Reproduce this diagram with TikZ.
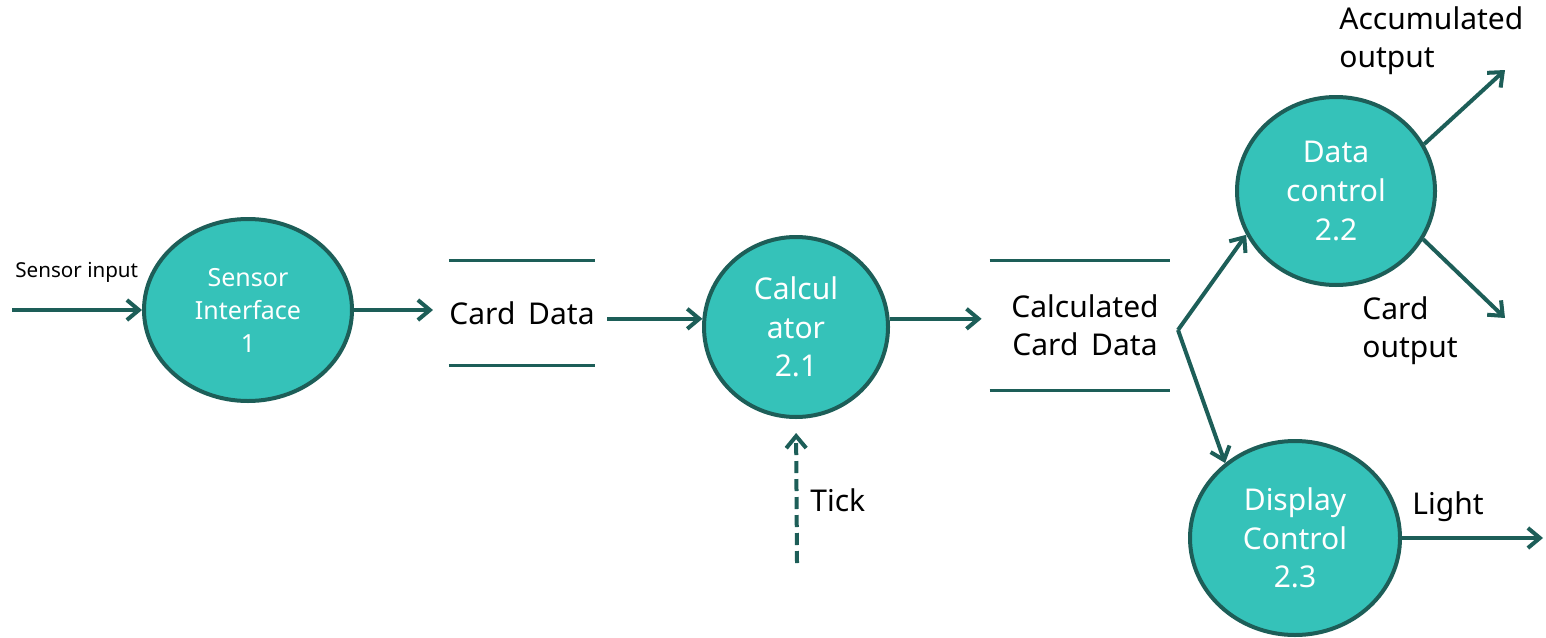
\documentclass[tikz,border=0pt]{standalone}
\usepackage{fontspec}
\setmainfont{Noto Sans}
\usetikzlibrary{arrows.meta,shapes.geometric}
\definecolor{tealfill}{HTML}{35C2B9}
\definecolor{tealline}{HTML}{1D5E58}
\begin{document}
\begin{tikzpicture}[x=0.5pt,y=-0.5pt,
 proc/.style={ellipse, draw=tealline, fill=tealfill, line width=2pt, text=white, align=center,
   font=\fontsize{15}{19.3}\selectfont, inner sep=0pt},
 flow/.style={draw=tealline, line width=2pt, -{Straight Barb[length=6pt,width=10pt,line width=2pt]}},
 lbl/.style={font=\fontsize{15}{19}\selectfont, align=left, inner sep=0pt},
 store/.style={minimum width=71pt, inner sep=0pt, align=center, font=\fontsize{15}{19}\selectfont},
 storeline/.style={draw=tealline, line width=1.8pt}]
\useasboundingbox (0,0) rectangle (1546,637);

% processes
\node[proc, minimum width=104pt, minimum height=91pt, font=\fontsize{12.5}{16.5}\selectfont] (si) at (248,310) {Sensor\\Interface\\1};
\node[proc, minimum width=92pt, minimum height=90pt] (calc) at (796,327) {Calcul\\ator\\2.1};
\node[proc, minimum width=99pt, minimum height=94pt] (dc) at (1336,191) {Data\\control\\2.2};
\node[proc, minimum width=105pt, minimum height=97pt] (disp) at (1295,538) {Display\\Control\\2.3};

% stores
\node[store, minimum height=52pt] (cd) at (522,313) {Card\, Data};
\draw[storeline] (cd.north west) -- (cd.north east);
\draw[storeline] (cd.south west) -- (cd.south east);
\node[store, minimum width=90pt, minimum height=64.5pt] (ccd) at (1080,325.5) {\hspace*{5pt}Calculated\\\hspace*{5pt}Card\, Data};
\draw[storeline] (ccd.north west) -- (ccd.north east);
\draw[storeline] (ccd.south west) -- (ccd.south east);

% free ends
\coordinate (sin) at (12,310);
\coordinate (tk) at (797,563);
\coordinate (br) at (1178,330);
\coordinate (ao) at (1505,70);
\coordinate (co) at (1505,318);
\coordinate (lt) at (1543,538);

% connectors
\draw[flow] (sin) -- (si.west);
\draw[flow, shorten >=8pt] (si.east) -- (si.east -| cd.west);
\draw[flow, shorten <=6pt] (cd.east |- calc.175) -- (calc.175);
\draw[flow, shorten >=4pt] (calc.5) -- (calc.5 -| ccd.west);
\draw[flow] (br) -- (dc.206);
\draw[flow] (br) -- (disp.133);
\draw[flow] (dc.28) -- (ao);
\draw[flow] (dc.331) -- (co);
\draw[flow] (disp.east) -- (lt);
\draw[flow, dash pattern=on 6pt off 3pt, shorten >=7pt] (tk) -- (calc.south);

% labels
\node[lbl, font=\fontsize{10.3}{12}\selectfont, anchor=west] (lsin) at (15,272) {Sensor input};
\node[lbl, anchor=west] (ltick) at (810,500) {Tick};
\node[lbl, anchor=west] (lao) at (1339,41) {Accumulated\\output};
\node[lbl, anchor=west] (lco) at (1362,331) {Card\\output};
\node[lbl, anchor=west] (llt) at (1412,507) {Light};
\end{tikzpicture}
\end{document}
